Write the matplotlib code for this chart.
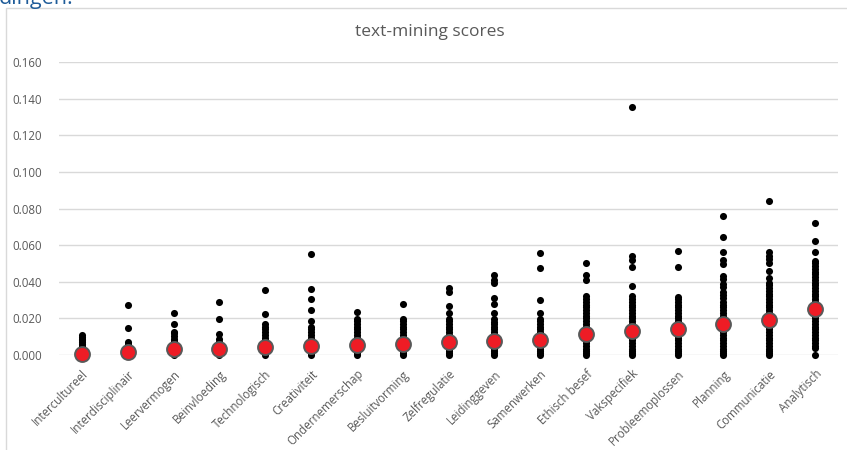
import matplotlib
matplotlib.use("Agg")
import matplotlib.pyplot as plt
from matplotlib.patches import Rectangle

plt.rcParams['font.family'] = ['Open Sans', 'DejaVu Sans']

categories = ["Intercultureel", "Interdisciplinair", "Leervermogen", "Beinvloeding",
              "Technologisch", "Creativiteit", "Ondernemerschap", "Besluitvorming",
              "Zelfregulatie", "Leidinggeven", "Samenwerken", "Ethisch besef",
              "Vakspecifiek", "Probleemoplossen", "Planning", "Communicatie", "Analytisch"]

# gemiddelde score per vaardigheid (rode punten)
means = [0.0008, 0.0015, 0.0033, 0.0033, 0.0041, 0.0051, 0.0055, 0.0058, 0.0069,
         0.0078, 0.0082, 0.0114, 0.0129, 0.0142, 0.0171, 0.0191, 0.0252]

# losse scores per vaardigheid (zwarte punten)
s_intercultureel = [0.0, 0.0005, 0.001, 0.002, 0.003, 0.004, 0.005, 0.006, 0.007,
                    0.008, 0.009, 0.010, 0.011]
s_interdisciplinair = [0.0, 0.001, 0.002, 0.003, 0.004, 0.005, 0.006, 0.0073,
                       0.0146, 0.0273]
s_leervermogen = [0.0, 0.001, 0.002, 0.003, 0.0045, 0.006, 0.0075, 0.009, 0.0105,
                  0.0118, 0.0128, 0.0169, 0.0228]
s_beinvloeding = [0.0, 0.001, 0.002, 0.003, 0.0045, 0.006, 0.0072, 0.0085, 0.0115,
                  0.0197, 0.029]
s_technologisch = [0.0, 0.001, 0.002, 0.0035, 0.005, 0.0065, 0.008, 0.0095, 0.011,
                   0.0125, 0.014, 0.0155, 0.0168, 0.0222, 0.0355]
s_creativiteit = [0.0, 0.001, 0.002, 0.0035, 0.005, 0.0065, 0.008, 0.0095, 0.011,
                  0.0125, 0.014, 0.0155, 0.0187, 0.0246, 0.0304, 0.0362, 0.055]
s_ondernemerschap = [0.0, 0.001, 0.002, 0.0035, 0.005, 0.0065, 0.008, 0.0095, 0.011,
                     0.0125, 0.014, 0.0155, 0.017, 0.0185, 0.0198, 0.0235]
s_besluitvorming = [0.0, 0.001, 0.002, 0.0035, 0.005, 0.0065, 0.008, 0.0095, 0.011,
                    0.0125, 0.014, 0.0155, 0.017, 0.0183, 0.0196, 0.0277]
s_zelfregulatie = [0.0, 0.001, 0.002, 0.0035, 0.005, 0.0065, 0.008, 0.0095, 0.011,
                   0.0125, 0.014, 0.0155, 0.017, 0.0185, 0.0198, 0.0228, 0.0268,
                   0.0342, 0.0364]
s_leidinggeven = [0.0, 0.001, 0.002, 0.0035, 0.005, 0.0065, 0.008, 0.0095, 0.011,
                  0.0125, 0.014, 0.0155, 0.017, 0.0182, 0.0195, 0.0228, 0.0277,
                  0.0313, 0.0393, 0.041, 0.0437]
s_samenwerken = [0.0, 0.001, 0.002, 0.0035, 0.005, 0.0065, 0.008, 0.0095, 0.011,
                 0.0125, 0.014, 0.0155, 0.017, 0.0185, 0.0198, 0.0231, 0.030,
                 0.0477, 0.0556]
s_ethisch_besef = [0.0, 0.001, 0.002, 0.0035, 0.005, 0.0065, 0.008, 0.0095, 0.011,
                   0.0125, 0.014, 0.0155, 0.017, 0.0185, 0.020, 0.0215, 0.023,
                   0.0245, 0.026, 0.0275, 0.029, 0.0305, 0.0322, 0.041, 0.0437,
                   0.0502]
s_vakspecifiek = [0.0, 0.001, 0.002, 0.0035, 0.005, 0.0065, 0.008, 0.0095, 0.011,
                  0.0125, 0.014, 0.0155, 0.017, 0.0185, 0.020, 0.0215, 0.023,
                  0.0245, 0.026, 0.0275, 0.029, 0.0305, 0.0322, 0.0377, 0.0482,
                  0.0519, 0.0541, 0.1355]
s_probleemoplossen = [0.0, 0.001, 0.002, 0.0035, 0.005, 0.0065, 0.008, 0.0095, 0.011,
                      0.0125, 0.014, 0.0155, 0.017, 0.0185, 0.020, 0.0215, 0.023,
                      0.0245, 0.026, 0.0275, 0.029, 0.0305, 0.0318, 0.0479, 0.0567]
s_planning = [0.0, 0.001, 0.002, 0.0035, 0.005, 0.0065, 0.008, 0.0095, 0.011,
              0.0125, 0.014, 0.0155, 0.017, 0.0185, 0.020, 0.0215, 0.023, 0.0245,
              0.026, 0.0275, 0.029, 0.031, 0.0325, 0.0345, 0.037, 0.039, 0.0415,
              0.043, 0.0497, 0.0518, 0.0562, 0.0643, 0.0761]
s_communicatie = [0.0, 0.001, 0.002, 0.0035, 0.005, 0.0065, 0.008, 0.0095, 0.011,
                  0.0125, 0.014, 0.0155, 0.017, 0.0185, 0.020, 0.0215, 0.023,
                  0.0245, 0.026, 0.0275, 0.029, 0.0305, 0.032, 0.0335, 0.035,
                  0.0365, 0.038, 0.0395, 0.0419, 0.0458, 0.050, 0.0522, 0.0543,
                  0.0563, 0.0843]
s_analytisch = [0.0, 0.0036, 0.005, 0.0065, 0.008, 0.0095, 0.011, 0.0125, 0.014,
                0.0155, 0.017, 0.0185, 0.020, 0.0215, 0.023, 0.0245, 0.026, 0.0275,
                0.029, 0.0305, 0.032, 0.0335, 0.035, 0.0365, 0.038, 0.0395, 0.041,
                0.0425, 0.044, 0.0455, 0.047, 0.0485, 0.050, 0.0515, 0.0563,
                0.0621, 0.072]

scores = [s_intercultureel, s_interdisciplinair, s_leervermogen, s_beinvloeding,
          s_technologisch, s_creativiteit, s_ondernemerschap, s_besluitvorming,
          s_zelfregulatie, s_leidinggeven, s_samenwerken, s_ethisch_besef,
          s_vakspecifiek, s_probleemoplossen, s_planning, s_communicatie, s_analytisch]

yticks = [0.0, 0.02, 0.04, 0.06, 0.08, 0.10, 0.12, 0.14, 0.16]

W, H = 847, 450
fig = plt.figure(figsize=(W / 100, H / 100), dpi=100)

# grafiekkader (loopt rechts/onder buiten het beeld)
frame = Rectangle((6 / W, -0.05), 1.2, 1 - 8 / H + 0.05, transform=fig.transFigure,
                  facecolor="none", edgecolor="#D9D9D9", linewidth=1.0)
fig.patches.append(frame)

# afgesneden tekst boven de grafiek (ook in het origineel half zichtbaar)
fig.text(-1 / W, 1 - 4 / H, "dingen.", color="#1F5C99", fontsize=15.5,
         va="baseline", ha="left")

ax = fig.add_axes([59 / W, 1 - 355 / H, (838 - 59) / W, (355 - 62) / H])
ax.set_xlim(0.5, len(categories) + 0.5)
ax.set_ylim(0, 0.16)
for s in ax.spines.values():
    s.set_visible(False)
ax.set_yticks(yticks)
ax.set_yticklabels([f"{v:.3f}" for v in yticks])
ax.yaxis.grid(True, color="#D9D9D9", linewidth=1.0)
ax.set_axisbelow(True)
ax.tick_params(length=0, labelsize=8.3, labelcolor="#595959")
ax.tick_params(axis="y", pad=12)

xs = list(range(1, len(categories) + 1))
for x, vals in zip(xs, scores):
    ax.scatter([x] * len(vals), vals, s=26, color="black", linewidths=0,
               zorder=3, clip_on=False)
ax.scatter(xs, means, s=115, color="#EE1C25", edgecolors="#595959",
           linewidths=1.4, zorder=4, clip_on=False)

ax.set_xticks(xs)
ax.set_xticklabels(categories, rotation=45, ha="right", rotation_mode="anchor")
ax.tick_params(axis="x", pad=9)

fig.text(430 / W, 1 - 32 / H, "text-mining scores", ha="center", va="center",
         fontsize=12.5, color="#595959")

plt.savefig("out.png", dpi=100)
